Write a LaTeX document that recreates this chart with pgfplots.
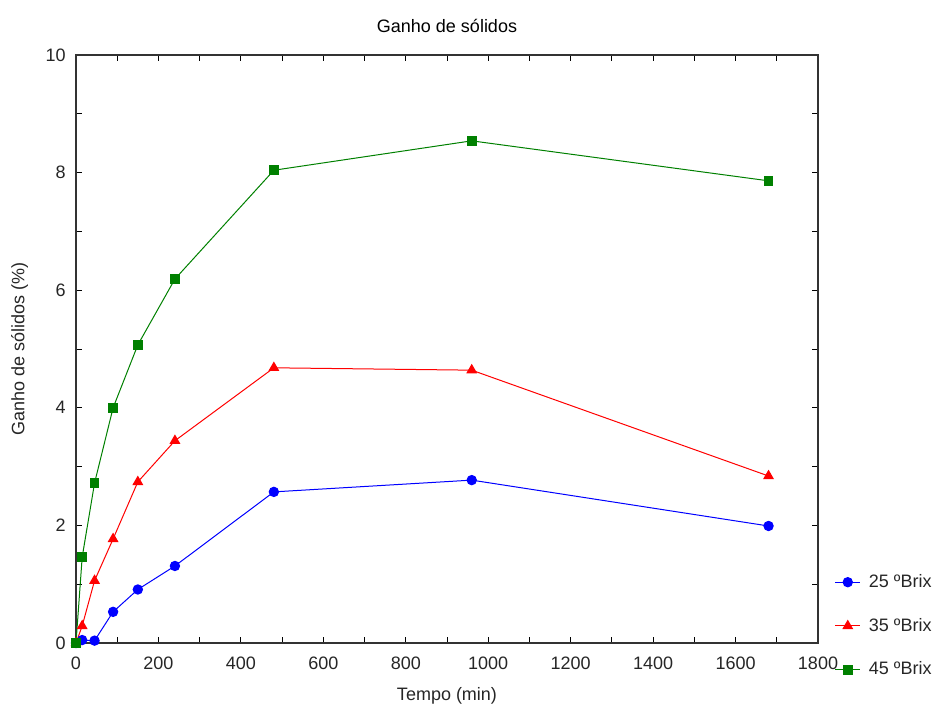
\documentclass[border=0pt]{standalone}
\usepackage{fontspec}
\setmainfont{Liberation Sans}
\usepackage{pgfplots}
\pgfplotsset{compat=1.18}
\usetikzlibrary{calc}

\definecolor{cblue}{RGB}{0,0,255}
\definecolor{cred}{RGB}{255,0,0}
\definecolor{cgreen}{RGB}{0,128,0}

\begin{document}
\fontsize{13.5}{16}\selectfont
\begin{tikzpicture}
\begin{axis}[
    name=ax,
    scale only axis,
    width=556.5pt, height=441pt,
    xmin=0, xmax=1800, ymin=0, ymax=10,
    xtick={0,200,...,1800},
    ytick={0,2,...,10},
    minor x tick num=1,
    minor y tick num=1,
    tick align=inside,
    major tick length=4.5pt,
    minor tick length=4.5pt,
    tick style={black, line width=0.6pt},
    axis line style={black!80, line width=0.8pt},
    /pgf/number format/assume math mode=true,
    /pgf/number format/1000 sep={},
    tick label style={font=\fontsize{13.5}{16}\selectfont, text=black!85},
    xticklabel style={yshift=-6pt},
    yticklabel style={xshift=-3pt},
    title={Ganho de sólidos},
    title style={font=\fontsize{13.5}{16}\selectfont, yshift=6pt},
    xlabel={Tempo (min)},
    ylabel={Ganho de sólidos (\%)},
    label style={font=\fontsize{13.5}{16}\selectfont, text=black!85},
    xlabel style={yshift=-4pt},
    ylabel style={yshift=4pt},
    clip=false,
    legend style={
        at={(rel axis cs:1.022,0.029)}, anchor=west,
        draw=none, fill=none, inner sep=0pt,
        row sep=17pt,
        font=\fontsize{13.5}{16}\selectfont,
        nodes={text=black!85, inner xsep=6pt},
    },
    legend image code/.code={
        \draw[mark repeat=2, mark phase=2] plot coordinates {(0pt,0pt) (9.5pt,0pt) (19pt,0pt)};
    },
    legend cell align=left,
    every axis plot/.append style={line width=0.75pt},
]
\addplot[color=cblue, mark=*, mark size=3.5pt] coordinates {
    (0,0) (15,0.05) (45,0.04) (90,0.53) (150,0.91) (240,1.31) (480,2.57) (960,2.77) (1680,1.99)
};
\addlegendentry{25 ºBrix}
\addplot[color=cred, mark=triangle*, mark size=4pt] coordinates {
    (0,0) (15,0.29) (45,1.06) (90,1.77) (150,2.74) (240,3.44) (480,4.68) (960,4.64) (1680,2.84)
};
\addlegendentry{35 ºBrix}
\addplot[color=cgreen, mark=square*, mark size=3.3pt] coordinates {
    (0,0) (15,1.46) (45,2.72) (90,4.00) (150,5.07) (240,6.19) (480,8.04) (960,8.54) (1680,7.86)
};
\addlegendentry{45 ºBrix}
\end{axis}
\pgfresetboundingbox
\path ($(ax.south west)+(-57pt,-49.5pt)$) rectangle ($(ax.north east)+(99.75pt,41.25pt)$);
\end{tikzpicture}
\end{document}
